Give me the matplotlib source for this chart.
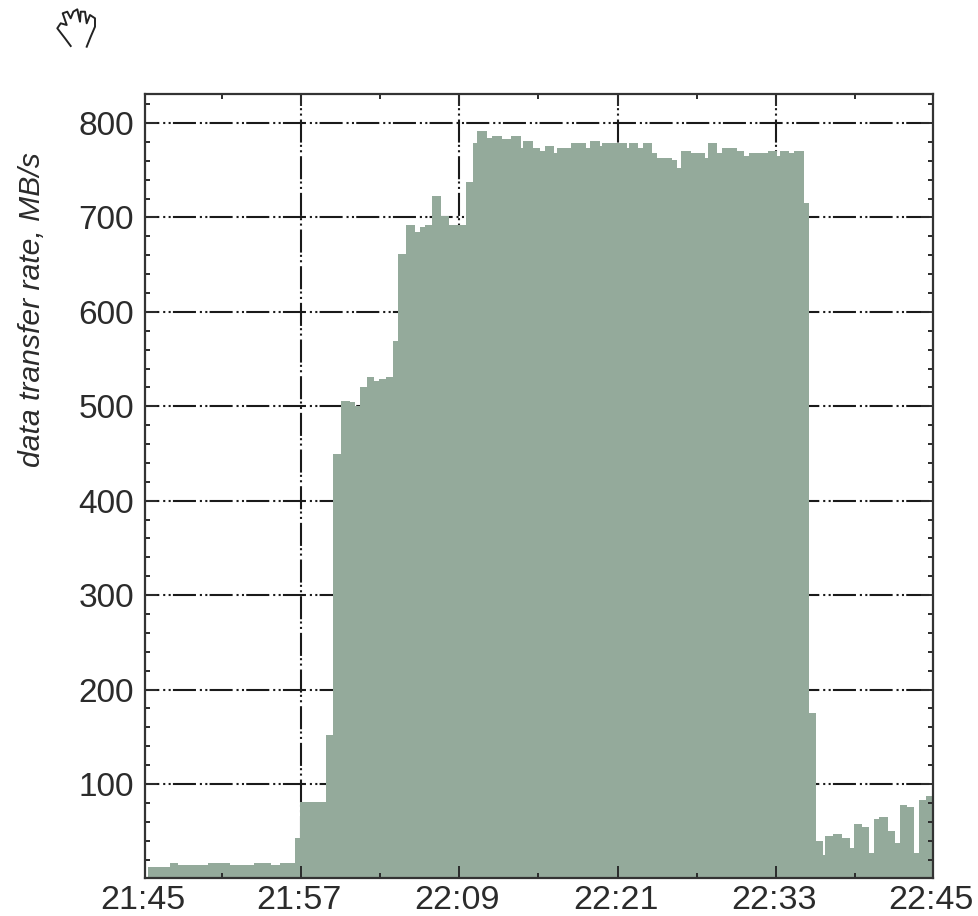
import matplotlib
matplotlib.use("Agg")
import matplotlib.pyplot as plt
from matplotlib.lines import Line2D
from matplotlib.transforms import ScaledTranslation

# bin edges in minutes after 21:45
edges = [0.42, 2.07, 2.65, 4.97, 6.62, 8.44, 9.73, 10.43, 11.55, 11.92,
         13.90, 14.45, 15.01, 15.71, 16.09, 16.47, 17.00, 17.53, 17.91, 18.44,
         19.00, 19.38, 19.94, 20.64, 21.02, 21.40, 21.91, 22.64, 23.20, 24.49,
         25.02, 25.37, 26.08, 26.46, 27.22, 27.92, 28.66, 28.85, 29.57, 30.12,
         30.50, 31.20, 31.39, 32.47, 33.58, 33.93, 34.67, 34.84, 36.69, 36.84,
         37.57, 37.95, 38.63, 39.01, 40.10, 40.48, 40.83, 41.55, 42.65, 42.86,
         43.56, 43.94, 45.03, 45.59, 45.94, 47.38, 48.11, 48.32, 49.02, 49.40,
         50.14, 50.49, 51.02, 51.60, 51.75, 52.31, 53.04, 53.60, 53.95, 54.51,
         55.04, 55.42, 55.80, 56.48, 57.06, 57.42, 57.95, 58.50, 58.86, 59.41,
         59.89]

rates = [11.8, 16.7, 14.3, 16.7, 14.3, 16.7, 14.3, 16.7, 42.5, 80.6,
         152, 450, 506, 505, 500.6, 520.8, 531.4, 526.8, 528.6, 531.4,
         569.5, 661.3, 692, 684.2, 689.5, 692, 722.7, 701.8, 692,
         737.9, 778.5, 791.2, 783.8, 786.2, 783, 786.2, 773.2, 780.9, 773.2,
         770.7, 776, 767.9, 773.2, 778.5, 773.2, 780.9, 776, 778.5, 773.2,
         778.5, 773.2, 778.5, 767.9, 763, 760.5, 752.7, 770.7, 767.9, 763,
         778.5, 767.9, 773.2, 770.7, 765.4, 767.9, 770.7, 765.4, 770.7, 767.9,
         770.7, 715, 175, 40, 24.8, 44.9, 47.4, 42.5, 31.9, 57.7,
         54.8, 27.3, 62.6, 65, 50, 37.2, 77.8, 75.3, 27.3, 82.7,
         87.6]

time_ticks = [0.17, 12, 24, 36, 48, 59.89]
time_labels = ["21:45", "21:57", "22:09", "22:21", "22:33", "22:45"]
time_minor = [6, 18, 30, 42, 54]
rate_ticks = [100, 200, 300, 400, 500, 600, 700, 800]
rate_minor = [v for v in range(20, 830, 20) if v % 100 != 0]

# outline of the little hand cursor above the plot, figure pixels
hand_x = [70.7, 65, 57.3, 60.7, 66.7, 62.7, 67.3, 70.7, 73.3, 77.3, 80, 80.7, 85, 86.7, 90, 95, 95, 90.7, 86.7]
hand_y = [46, 38.3, 28.3, 23.3, 25, 13.3, 11.7, 18.3, 11.7, 9.3, 21.7, 11.7, 11.7, 23.3, 15, 18.3, 26.7, 36.7, 46.7]

plt.rcParams["font.family"] = ["Liberation Sans", "DejaVu Sans"]
plt.rcParams["lines.scale_dashes"] = False

W, H = 979, 916
dark = "#2b2b2b"
fig = plt.figure(figsize=(W / 100, H / 100), dpi=100)
ax = fig.add_axes([145 / W, 1 - 877.5 / H, (932.7 - 145) / W, (877.5 - 94) / H])

pattern = (16.6, 2.8, 1.5, 2.4, 1.5, 1.6)
for v in rate_ticks:
  ax.axhline(v, color="#1a1a1a", lw=1.5, ls=(6.3, pattern), zorder=0.5)
for t in time_ticks[1:-1]:
  ax.axvline(t, color="#1a1a1a", lw=1.5, ls=(24.9, pattern), zorder=0.5)

ax.stairs(rates, edges, fill=True, color="#94aa9b", baseline=0, zorder=1)

ax.set_xlim(0.17, 59.89)
ax.set_ylim(1, 830.7)
ax.set_xticks(time_ticks, time_labels)
ax.set_xticks(time_minor, minor=True)
ax.set_yticks(rate_ticks)
ax.set_yticks(rate_minor, minor=True)
ax.tick_params(which="both", direction="in", top=True, right=True, color=dark, width=1.4, zorder=2.5)
ax.tick_params(which="major", length=8.5)
ax.tick_params(which="minor", length=3.8)
ax.tick_params(axis="x", which="major", labelsize=24.5, pad=5.5, labelcolor=dark)
ax.tick_params(axis="y", which="major", labelsize=24, pad=8, labelcolor=dark)
for s in ax.spines.values():
  s.set_linewidth(1.6)
  s.set_color("#333333")

# the time labels sit a little left of their ticks
nudge = ScaledTranslation(-2 / 100, 0, fig.dpi_scale_trans)
for lab in ax.get_xticklabels():
  lab.set_transform(lab.get_transform() + nudge)

fig.text(32 / W, 1 - 310 / H, "data transfer rate, MB/s", rotation=90, style="italic",
         fontsize=21.7, color=dark, ha="center", va="center")

fig.add_artist(Line2D([x / W for x in hand_x], [1 - y / H for y in hand_y],
                      transform=fig.transFigure, color="#222222", lw=1.4))

plt.savefig("out.png", dpi=100)
